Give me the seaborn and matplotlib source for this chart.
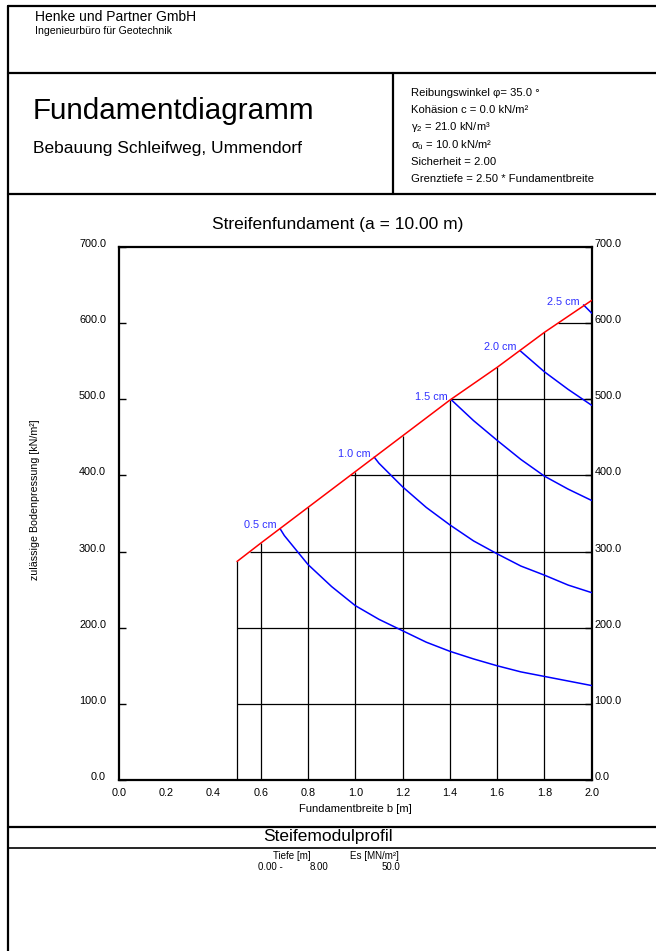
import numpy as np
import pandas as pd
import matplotlib
matplotlib.use("Agg")
import matplotlib.pyplot as plt
import seaborn as sns
from matplotlib.lines import Line2D

# Grenzlinie der zulässigen Bodenpressung (Grundbruch)
grenz_b = [0.5, 0.6, 0.8, 1.0, 1.2, 1.4, 1.6, 1.8, 2.0]
grenz_q = [287, 311, 358, 405, 452, 499, 542, 588, 630]

# Setzungslinien
s05_b = [0.682, 0.70, 0.75, 0.80, 0.90, 1.00, 1.10, 1.20, 1.30, 1.40, 1.50, 1.60, 1.70, 1.80, 1.90, 2.00]
s05_q = [330, 321, 302, 283, 254, 229, 211, 196, 181, 169, 159, 150, 142, 136, 130, 124]
s10_b = [1.08, 1.10, 1.20, 1.30, 1.40, 1.50, 1.60, 1.70, 1.80, 1.90, 2.00]
s10_q = [424, 416, 385, 358, 335, 314, 297, 281, 269, 256, 246]
s15_b = [1.407, 1.50, 1.60, 1.70, 1.80, 1.90, 2.00]
s15_q = [499, 472, 446, 421, 399, 382, 367]
s20_b = [1.696, 1.80, 1.90, 2.00]
s20_q = [564, 536, 513, 492]
s25_b = [1.965, 2.00]
s25_q = [624, 613]
setz_labels = ["0.5 cm", "1.0 cm", "1.5 cm", "2.0 cm", "2.5 cm"]

# Achsen
x_ticks = [0.0, 0.2, 0.4, 0.6, 0.8, 1.0, 1.2, 1.4, 1.6, 1.8, 2.0]
y_ticks = [0, 100, 200, 300, 400, 500, 600, 700]
raster_b = [0.5, 0.6, 0.8, 1.0, 1.2, 1.4, 1.6, 1.8]
raster_q = [100, 200, 300, 400, 500, 600]

# Kopfdaten
firma = "Henke und Partner GmbH"
firma_zusatz = "Ingenieurbüro für Geotechnik"
titel = "Fundamentdiagramm"
projekt = "Bebauung Schleifweg, Ummendorf"
parameter = [
    "Reibungswinkel φ= 35.0 °",
    "Kohäsion c = 0.0 kN/m²",
    r"$\gamma_{2}$ = 21.0 kN/m³",
    r"$\sigma_{ü}$ = 10.0 kN/m²",
    "Sicherheit = 2.00",
    "Grenztiefe = 2.50 * Fundamentbreite",
]
diagramm_titel = "Streifenfundament (a = 10.00 m)"
profil_titel = "Steifemodulprofil"
profil_tiefe_von = ["0.00"]
profil_tiefe_bis = ["8.00"]
profil_es = ["50.0"]

sns.set_theme(style="white")
plt.rcParams["font.family"] = ["Liberation Sans", "DejaVu Sans"]
plt.rcParams["text.color"] = "black"
plt.rcParams["axes.labelcolor"] = "black"
plt.rcParams["mathtext.fontset"] = "custom"
plt.rcParams["mathtext.rm"] = "Liberation Sans"
plt.rcParams["mathtext.it"] = "Liberation Sans"
plt.rcParams["mathtext.bf"] = "Liberation Sans:bold"

W, H = 656, 951
fig = plt.figure(figsize=(W / 100, H / 100), dpi=100)
fig.patch.set_facecolor("white")


def fx(x):
    return x / W


def fy(y):
    return 1 - y / H


def fline(x0, y0, x1, y1, lw=1.6):
    fig.add_artist(Line2D([fx(x0), fx(x1)], [fy(y0), fy(y1)],
                          transform=fig.transFigure, color="black", lw=lw))


# Blattrahmen
fline(8, 6, 656, 6)
fline(8, 6, 8, 951)
fline(8, 73, 656, 73)
fline(8, 194, 656, 194)
fline(393, 73, 393, 194)
fline(8, 827, 656, 827)
fline(8, 848, 656, 848, lw=1.2)

# Kopf
fig.text(fx(35), fy(17), firma, fontsize=10, ha="left", va="center")
fig.text(fx(35), fy(31), firma_zusatz, fontsize=7.6, ha="left", va="center")
fig.text(fx(33), fy(111), titel, fontsize=21.3, ha="left", va="center")
fig.text(fx(33), fy(149), projekt, fontsize=12.5, ha="left", va="center")
for i, txt in enumerate(parameter):
    fig.text(fx(411), fy(93 + i * 17.2), txt, fontsize=8.1, ha="left", va="center")

# Diagramm
x0, x1, y0, y1 = 118.8, 591.8, 247, 780
ax = fig.add_axes([fx(x0), fy(y1), fx(x1 - x0), (y1 - y0) / H])
ax.set_xlim(0, 2.0)
ax.set_ylim(0, 700)

# Raster unterhalb der Grenzlinie
ax.vlines(raster_b, 0, np.interp(raster_b, grenz_b, grenz_q), color="black", lw=0.9, zorder=1)
h_start = np.maximum(0.5, np.interp(raster_q, grenz_q, grenz_b))
ax.hlines(raster_q, h_start, 2.0, color="black", lw=0.9, zorder=1)

kurven = [(s05_b, s05_q), (s10_b, s10_q), (s15_b, s15_q), (s20_b, s20_q), (s25_b, s25_q)]
df = pd.concat(
    [pd.DataFrame({"b": b, "q": q, "s": lab}) for (b, q), lab in zip(kurven, setz_labels)],
    ignore_index=True,
)
sns.lineplot(data=df, x="b", y="q", units="s", estimator=None, sort=False,
             color="#0000ff", lw=1.1, ax=ax, zorder=3)
sns.lineplot(x=grenz_b, y=grenz_q, estimator=None, sort=False,
             color="#ff0000", lw=1.1, ax=ax, zorder=4)

for (b, q), lab in zip(kurven, setz_labels):
    ax.annotate(lab, (b[0], q[0]), xytext=(-2.6, 2.4), textcoords="offset points",
                ha="right", va="center", color="#3030ff", fontsize=7.8)

for sp in ax.spines.values():
    sp.set_color("black")
    sp.set_linewidth(1.6)

ax.set_xticks(x_ticks)
ax.set_xticklabels([f"{v:.1f}" for v in x_ticks])
ax.set_yticks(y_ticks)
ax.set_yticklabels([f"{v:.1f}" for v in y_ticks])
ax.tick_params(axis="x", length=0, pad=5.5, labelsize=7.8, colors="black")
ax.tick_params(axis="y", direction="in", length=5, width=1.0, pad=9.2,
               labelsize=7.8, colors="black", left=True)
for t in ax.get_yticklabels():
    t.set_verticalalignment("baseline")

ax2 = ax.twinx()
ax2.set_ylim(0, 700)
ax2.set_yticks(y_ticks)
ax2.set_yticklabels([f"{v:.1f}" for v in y_ticks])
ax2.tick_params(axis="y", direction="in", length=5, width=1.0, pad=1.8,
                labelsize=7.8, colors="black", right=True)
for t in ax2.get_yticklabels():
    t.set_verticalalignment("baseline")
ax2.grid(False)
for sp in ax2.spines.values():
    sp.set_visible(False)

ax.set_xlabel("Fundamentbreite b [m]", fontsize=8, color="black")
ax.xaxis.set_label_coords(0.5, -(809 - y1) / (y1 - y0))
ax.xaxis.label.set_va("center")
ax.set_ylabel("zulässige Bodenpressung [kN/m²]", fontsize=7.7, color="black")
ax.yaxis.set_label_coords((35 - x0) / (x1 - x0), (y1 - 500) / (y1 - y0))
ax.yaxis.label.set_va("center")
ax.grid(False)

fig.text(fx(338), fy(225), diagramm_titel, fontsize=12.5, ha="center", va="center")

# Steifemodulprofil
fig.text(fx(328), fy(837), profil_titel, fontsize=12.5, ha="center", va="center")
fig.text(fx(292), fy(856), "Tiefe [m]", fontsize=7, ha="center", va="center")
fig.text(fx(374), fy(856), "Es [MN/m²]", fontsize=7, ha="center", va="center")
for i, (a, b, e) in enumerate(zip(profil_tiefe_von, profil_tiefe_bis, profil_es)):
    yy = fy(867 + i * 12)
    fig.text(fx(258), yy, f"{a} -", fontsize=7, ha="left", va="center")
    fig.text(fx(328), yy, b, fontsize=7, ha="right", va="center")
    fig.text(fx(400), yy, e, fontsize=7, ha="right", va="center")

fig.savefig("out.png", dpi=100, facecolor="white")
